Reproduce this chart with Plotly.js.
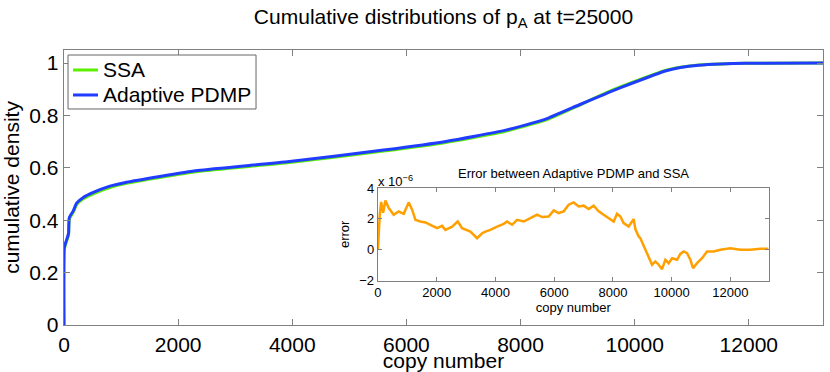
<!DOCTYPE html>
<html>
<head>
<meta charset="utf-8">
<script src="https://cdn.plot.ly/plotly-3.0.1.min.js"></script>
<style>
  body { margin: 0; background: #fff; }
  #plot { width: 830px; height: 372px; }
</style>
</head>
<body>
<div id="plot"></div>
<script>
// cumulative densities
const copyNumber = [0, 5, 30, 58, 80, 93, 163, 221, 338, 513, 804, 1096, 1678, 2348, 3951, 5600, 6690, 7739, 8438, 9021, 9371, 9545, 9953, 10536, 10800, 11119, 11500, 11935, 13300];
const pdmpCdf = [0, 0.295, 0.315, 0.333, 0.35, 0.41, 0.436, 0.465, 0.487, 0.506, 0.53, 0.545, 0.567, 0.59, 0.624, 0.668, 0.701, 0.744, 0.786, 0.84, 0.872, 0.888, 0.923, 0.97, 0.983, 0.992, 0.997, 0.999, 1.0];
const ssaCdf  = [0, 0.29, 0.31, 0.328, 0.345, 0.404, 0.431, 0.46, 0.482, 0.501, 0.525, 0.541, 0.563, 0.586, 0.62, 0.664, 0.697, 0.74, 0.782, 0.838, 0.874, 0.891, 0.926, 0.972, 0.984, 0.993, 0.997, 0.999, 1.0];

// error (units of 1e-6)
const errX = [0, 27, 60, 109, 177, 255, 368, 538, 708, 878, 1048, 1164, 1276, 1447, 1617, 1787, 2015, 2185, 2297, 2526, 2716, 2866, 3148, 3376, 3547, 3659, 3829, 4057, 4282, 4397, 4568, 4738, 4963, 5190, 5419, 5589, 5814, 5984, 6154, 6324, 6494, 6664, 6835, 7005, 7175, 7345, 7515, 7686, 7856, 8026, 8141, 8254, 8366, 8536, 8652, 8706, 8765, 8877, 8935, 9105, 9217, 9333, 9445, 9558, 9673, 9786, 9898, 10014, 10184, 10296, 10408, 10524, 10637, 10728, 10864, 11035, 11205, 11430, 11658, 11998, 12338, 12679, 13019, 13300];
const errY = [0, 1.7, 2.2, 3.1, 2.4, 3.2, 2.7, 2.27, 2.48, 2.33, 3.07, 2.6, 1.94, 1.83, 1.77, 1.62, 1.4, 1.55, 1.29, 1.5, 1.83, 1.4, 1.18, 0.75, 1.07, 1.18, 1.29, 1.5, 1.68, 1.83, 1.62, 1.94, 1.83, 2.05, 2.27, 2.12, 2.16, 2.55, 2.38, 2.49, 2.92, 3.07, 2.81, 2.86, 2.64, 2.86, 2.49, 2.27, 2.05, 1.83, 2.33, 2.16, 1.73, 1.51, 1.83, 1.99, 1.34, 0.86, 0.75, 0.0, -0.44, -0.97, -0.76, -0.97, -1.26, -0.65, -0.87, -0.55, -0.65, -0.27, -0.11, -0.22, -0.65, -1.19, -0.87, -0.55, -0.11, -0.11, 0, 0.1, 0.0, 0, 0.06, 0.06];

const xTicks = [0, 2000, 4000, 6000, 8000, 10000, 12000];
const xTickText = ['0', '2000', '4000', '6000', '8000', '10000', '12000'];
const yTicks = [0, 0.2, 0.4, 0.6, 0.8, 1];
const yTickText = ['0', '0.2', '0.4', '0.6', '0.8', '1'];
const errTicks = [-2, 0, 2, 4];
const errTickText = ['\u22122', '0', '2', '4'];

const seriesNames = ['SSA', 'Adaptive PDMP'];
const seriesColors = ['#5cf000', '#1f3cff'];

const FONT = 'Liberation Sans, Arial, Helvetica, sans-serif';
const AXIS = '#808080';

const traces = [
    {
        x: copyNumber, y: ssaCdf, type: 'scatter', mode: 'lines', name: seriesNames[0],
        line: { color: seriesColors[0], width: 3, shape: 'spline', smoothing: 0.5 }
    },
    {
        x: copyNumber, y: pdmpCdf, type: 'scatter', mode: 'lines', name: seriesNames[1],
        line: { color: seriesColors[1], width: 3, shape: 'spline', smoothing: 0.5 }
    },
    {
        x: errX, y: errY, type: 'scatter', mode: 'lines',
        xaxis: 'x2', yaxis: 'y2',
        line: { color: '#ffa000', width: 2.5 }
    }
];

// hand-made legend box (Plotly's own rows are too tall at this font size)
const legendShapes = [
    { type: 'rect', xref: 'paper', yref: 'paper', x0: 0.0053, x1: 0.253, y0: 0.7855, y1: 0.9818,
      fillcolor: '#fff', line: { color: '#666', width: 1 }, layer: 'above' }
];
const legendNotes = [];
const legendRows = [0.9273, 0.8364];
seriesNames.forEach((name, i) => {
    legendShapes.push({ type: 'line', xref: 'paper', yref: 'paper', x0: 0.0119, x1: 0.0448,
        y0: legendRows[i], y1: legendRows[i], line: { color: seriesColors[i], width: 3 }, layer: 'above' });
    legendNotes.push({ text: name, xref: 'paper', yref: 'paper', x: 0.0487, y: legendRows[i],
        xanchor: 'left', yanchor: 'middle', showarrow: false, font: { size: 21 } });
});

const layout = {
    width: 830,
    height: 372,
    margin: { l: 64, r: 7, t: 50, b: 47 },
    paper_bgcolor: '#fff',
    plot_bgcolor: '#fff',
    font: { family: FONT, color: '#000' },
    showlegend: false,
    title: {
        text: 'Cumulative distributions of p<sub>A</sub> at t=25000',
        font: { size: 21 },
        x: 0.5, xref: 'paper',
        y: 0.975, yref: 'container', yanchor: 'top'
    },
    xaxis: {
        range: [0, 13300], tickvals: xTicks, ticktext: xTickText, ticks: 'inside', ticklen: 6,
        tickcolor: AXIS, showline: true, linecolor: AXIS, linewidth: 1.3, mirror: 'ticks',
        showgrid: false, zeroline: false, tickfont: { size: 21 },
        title: { text: 'copy number', font: { size: 21 }, standoff: 0 }
    },
    yaxis: {
        range: [0, 1.05], tickvals: yTicks, ticktext: yTickText, ticks: 'inside', ticklen: 6,
        tickcolor: AXIS, showline: true, linecolor: AXIS, linewidth: 1.3, mirror: 'ticks',
        showgrid: false, zeroline: false, tickfont: { size: 21 },
        title: { text: 'cumulative density', font: { size: 21 }, standoff: 8 }
    },
    xaxis2: {
        domain: [0.4136, 0.9283], anchor: 'y2',
        range: [0, 13300], tickvals: xTicks, ticktext: xTickText, ticks: 'inside', ticklen: 4,
        tickcolor: AXIS, showline: true, linecolor: AXIS, linewidth: 1.2, mirror: 'ticks',
        showgrid: false, zeroline: false, tickfont: { size: 13 },
        title: { text: 'copy number', font: { size: 13 }, standoff: 0 }
    },
    yaxis2: {
        domain: [0.1614, 0.498], anchor: 'x2',
        range: [-2, 4], tickvals: errTicks, ticktext: errTickText, ticks: 'inside', ticklen: 4,
        tickcolor: AXIS, showline: true, linecolor: AXIS, linewidth: 1.2, mirror: 'ticks',
        showgrid: false, zeroline: false, tickfont: { size: 13 },
        title: { text: 'error', font: { size: 13 }, standoff: 6 }
    },
    shapes: legendShapes,
    annotations: [
        {
            text: 'Error between Adaptive PDMP and SSA',
            xref: 'paper', yref: 'paper', x: 0.671, y: 0.55,
            xanchor: 'center', yanchor: 'middle', showarrow: false,
            font: { size: 13 }
        },
        {
            text: 'x 10<sup>\u22126</sup>',
            xref: 'paper', yref: 'paper', x: 0.4116, y: 0.522,
            xanchor: 'left', yanchor: 'middle', showarrow: false,
            font: { size: 13 }
        }
    ].concat(legendNotes)
};

Plotly.newPlot('plot', traces, layout, { displayModeBar: false, staticPlot: true });
</script>
</body>
</html>
